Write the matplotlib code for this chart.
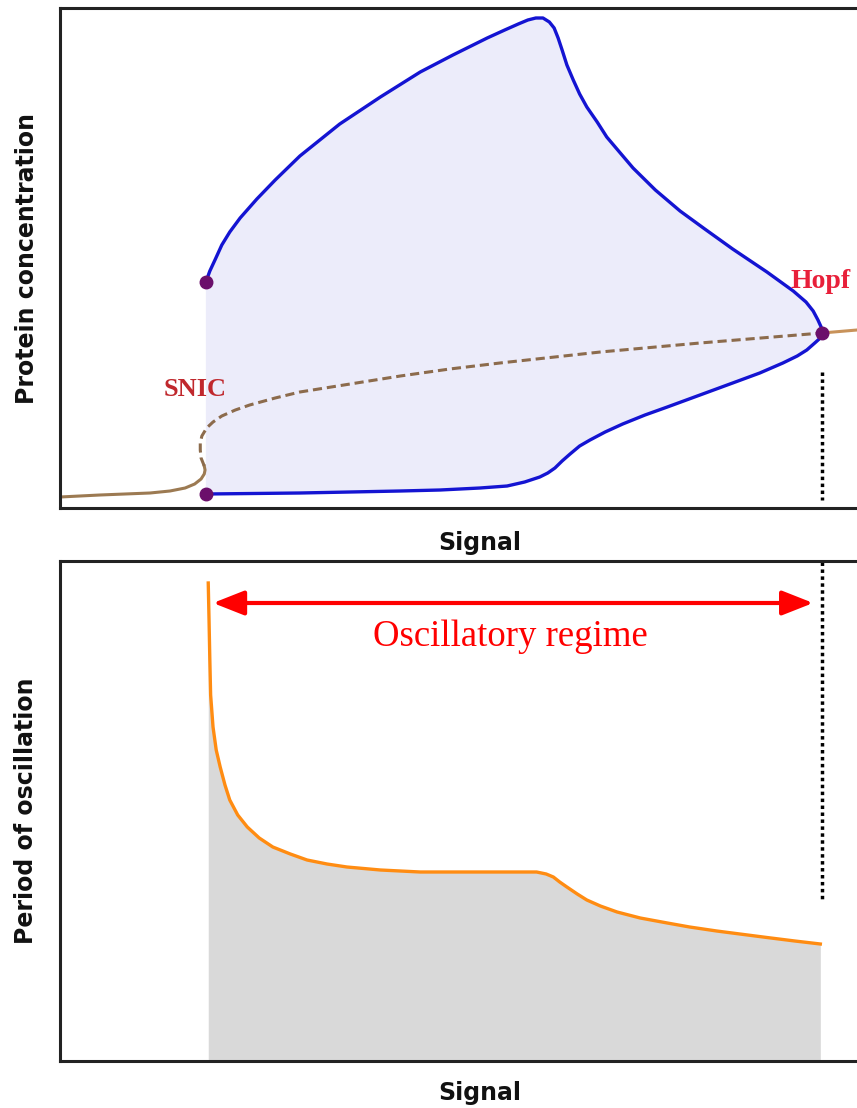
import numpy as np
import matplotlib
matplotlib.use('Agg')
import matplotlib.pyplot as plt

# --- datos (signal en unidades arbitrarias 0-10) ---

# rama superior del ciclo limite (maximo de la oscilacion)
sig_up = [1.83, 1.88, 1.95, 2.03, 2.13, 2.26, 2.47, 2.70, 3.01, 3.51, 4.02, 4.52, 4.93,
          5.36, 5.58, 5.75, 5.87, 5.97, 6.06, 6.14, 6.20, 6.25, 6.30, 6.36, 6.44, 6.52,
          6.61, 6.74, 6.86, 7.03, 7.19, 7.47, 7.78, 8.09, 8.44, 8.87, 9.20, 9.36, 9.45,
          9.51, 9.55, 9.56]
conc_up = [4.52, 4.74, 4.98, 5.26, 5.52, 5.80, 6.18, 6.56, 7.04, 7.68, 8.22, 8.72, 9.06,
           9.40, 9.56, 9.68, 9.76, 9.80, 9.80, 9.72, 9.60, 9.40, 9.16, 8.86, 8.56, 8.28,
           8.02, 7.72, 7.42, 7.10, 6.80, 6.36, 5.94, 5.58, 5.18, 4.72, 4.34, 4.12, 3.94,
           3.76, 3.62, 3.50]

# rama inferior (minimo de la oscilacion)
sig_low = [1.83, 3.01, 4.27, 4.77, 5.27, 5.61, 5.83, 6.02, 6.12, 6.21, 6.30, 6.40, 6.52,
           6.65, 6.84, 7.06, 7.34, 7.62, 8.03, 8.44, 8.78, 9.07, 9.25, 9.37, 9.47, 9.54, 9.56]
conc_low = [0.28, 0.30, 0.34, 0.36, 0.40, 0.44, 0.52, 0.62, 0.70, 0.80, 0.94, 1.08, 1.24,
            1.36, 1.52, 1.68, 1.86, 2.02, 2.26, 2.50, 2.70, 2.90, 3.04, 3.16, 3.30, 3.40, 3.50]

# estado estacionario estable (izquierda), inestable (punteado) y estable (derecha)
sig_st1 = [0.0, 0.50, 1.13, 1.38, 1.57, 1.69, 1.77, 1.81, 1.82, 1.81]
conc_st1 = [0.22, 0.26, 0.30, 0.34, 0.40, 0.48, 0.58, 0.68, 0.76, 0.84]
sig_uns = [1.81, 1.77, 1.76, 1.76, 1.78, 1.84, 1.92, 2.03, 2.20, 2.38, 2.70, 3.01,
           3.64, 4.27, 4.89, 5.52, 6.78, 8.03, 9.56]
conc_uns = [0.84, 1.00, 1.16, 1.30, 1.44, 1.60, 1.72, 1.84, 1.96, 2.06, 2.20, 2.32,
            2.48, 2.64, 2.78, 2.90, 3.12, 3.30, 3.50]
sig_st2 = [9.56, 10.0]
conc_st2 = [3.50, 3.56]

# puntos de bifurcacion
sig_bif = [1.83, 1.83, 9.56]
conc_bif = [4.52, 0.28, 3.50]

# periodo de oscilacion
sig_per = [1.86, 1.87, 1.88, 1.89, 1.92, 1.96, 2.01, 2.07, 2.13, 2.23, 2.35, 2.50, 2.67,
           2.89, 3.10, 3.35, 3.60, 4.02, 4.52, 5.52, 5.98, 6.10, 6.19, 6.27, 6.36, 6.49,
           6.61, 6.78, 6.99, 7.28, 7.62, 7.90, 8.24, 8.53, 8.87, 9.22, 9.54]
period = [9.56, 8.82, 8.02, 7.32, 6.68, 6.22, 5.88, 5.52, 5.22, 4.92, 4.68, 4.46, 4.28,
          4.14, 4.02, 3.94, 3.88, 3.82, 3.78, 3.78, 3.78, 3.74, 3.68, 3.58, 3.48, 3.34,
          3.22, 3.10, 2.98, 2.86, 2.76, 2.68, 2.60, 2.54, 2.47, 2.40, 2.34]

hopf = 9.56

fig = plt.figure(figsize=(8.57, 11.08), dpi=100)
ax1 = fig.add_axes([60/857, 600/1108, 797/857, 500/1108])
ax2 = fig.add_axes([60/857, 47/1108, 797/857, 500/1108])

for ax in (ax1, ax2):
    ax.set_xlim(0, 10)
    ax.set_ylim(0, 10)
    ax.set_xticks([])
    ax.set_yticks([])
    ax.spines['right'].set_visible(False)
    for s in ('left', 'top', 'bottom'):
        ax.spines[s].set_linewidth(2.2)
        ax.spines[s].set_color('#222222')

lab = dict(fontsize=17, fontweight='bold', family='DejaVu Sans', color='#111111')

# ---- panel superior ----
ax1.fill(sig_up + sig_low[::-1], conc_up + conc_low[::-1], color='#ececfa', lw=0, zorder=1)
ax1.plot(sig_st1, conc_st1, color='#9c7a52', lw=2.2, zorder=2)
ax1.plot(sig_uns, conc_uns, color='#8c6b4c', lw=2.2, ls=(0, (3, 1.6)), zorder=2)
ax1.plot(sig_st2, conc_st2, color='#c8925a', lw=2.2, zorder=2)
ax1.plot(sig_up, conc_up, color='#1414d2', lw=2.4, zorder=3, solid_joinstyle='round')
ax1.plot(sig_low, conc_low, color='#1414d2', lw=2.4, zorder=3, solid_joinstyle='round')
ax1.plot(sig_bif, conc_bif, 'o', color='#6b0f6b', ms=9, zorder=4)
ax1.plot([hopf, hopf], [2.72, 0.16], color='black', lw=2.5, ls=(0, (1, 1)), zorder=2)
ax1.text(1.69, 2.38, 'SNIC', color='#c0282d', fontsize=19, fontweight='bold',
         family='Liberation Serif', ha='center', va='center')
ax1.text(9.54, 4.52, 'Hopf', color='#e8203a', fontsize=20, fontweight='bold',
         family='Liberation Serif', ha='center', va='center')
ax1.text(-33/797, 0.5, 'Protein concentration', rotation=90, ha='center', va='center',
         transform=ax1.transAxes, **lab)
ax1.text(420/797, -35/500, 'Signal', ha='center', va='center', transform=ax1.transAxes, **lab)

# ---- panel inferior ----
ax2.fill_between(sig_per, period, 0, color='#d9d9d9', lw=0, zorder=1)
ax2.plot(sig_per, period, color='#ff8c12', lw=2.4, zorder=3, solid_joinstyle='round')
ax2.plot([hopf, hopf], [9.98, 3.22], color='black', lw=2.5, ls=(0, (1, 1)), zorder=2)
ax2.annotate('', xy=(1.92, 9.16), xytext=(9.45, 9.16),
             arrowprops=dict(arrowstyle='<|-|>,head_length=1.9,head_width=0.75',
                             color='#ff0000', lw=3, shrinkA=0, shrinkB=0))
ax2.text(5.65, 8.48, 'Oscillatory regime', color='#ff0000', fontsize=26.5,
         family='Liberation Serif', ha='center', va='center')
ax2.text(-34/797, 0.5, 'Period of oscillation', rotation=90, ha='center', va='center',
         transform=ax2.transAxes, **lab)
ax2.text(420/797, -32/500, 'Signal', ha='center', va='center', transform=ax2.transAxes, **lab)

plt.savefig('out.png', dpi=100)
